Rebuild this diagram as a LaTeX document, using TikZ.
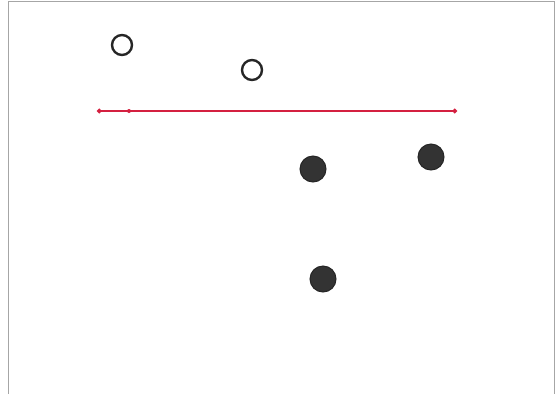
\documentclass[tikz,border=0pt]{standalone}
\usepackage{tikz}
\usetikzlibrary{arrows.meta}
\definecolor{markerred}{RGB}{212,32,64}

\begin{document}
\begin{tikzpicture}[
  x=1pt, y=-1pt,
  openpt/.style = {circle, draw=black!85, line width=2.4pt, fill=white,
                   minimum size=20pt, inner sep=0pt},
  fullpt/.style = {circle, draw=black!85, line width=1pt, fill=black!80,
                   minimum size=26pt, inner sep=0pt},
  sep/.style    = {markerred, line width=1.8pt,
                   {Circle[length=4.5pt]}-{Circle[length=4.5pt]}},
]

%% page and frame (bottom edge cut off)
\useasboundingbox (0,0) rectangle (556,394);
\draw[gray!70, line width=0.8pt] (8,394) -- (8,1.5) -- (554.5,1.5) -- (554.5,394);

%% one class: open circles
\node[openpt] (o1) at (122,45) {};
\node[openpt] (o2) at (252,70) {};

%% other class: filled circles
\node[fullpt] (f1) at (313,169) {};
\node[fullpt] (f2) at (431,157) {};
\node[fullpt] (f3) at (323,279) {};

%% red separating line
\coordinate (sl) at (97,111);
\coordinate (sr) at (457,111);
\draw[sep] (sl) -- (sr);
\fill[markerred] (129,111) circle (2pt);

\end{tikzpicture}
\end{document}
